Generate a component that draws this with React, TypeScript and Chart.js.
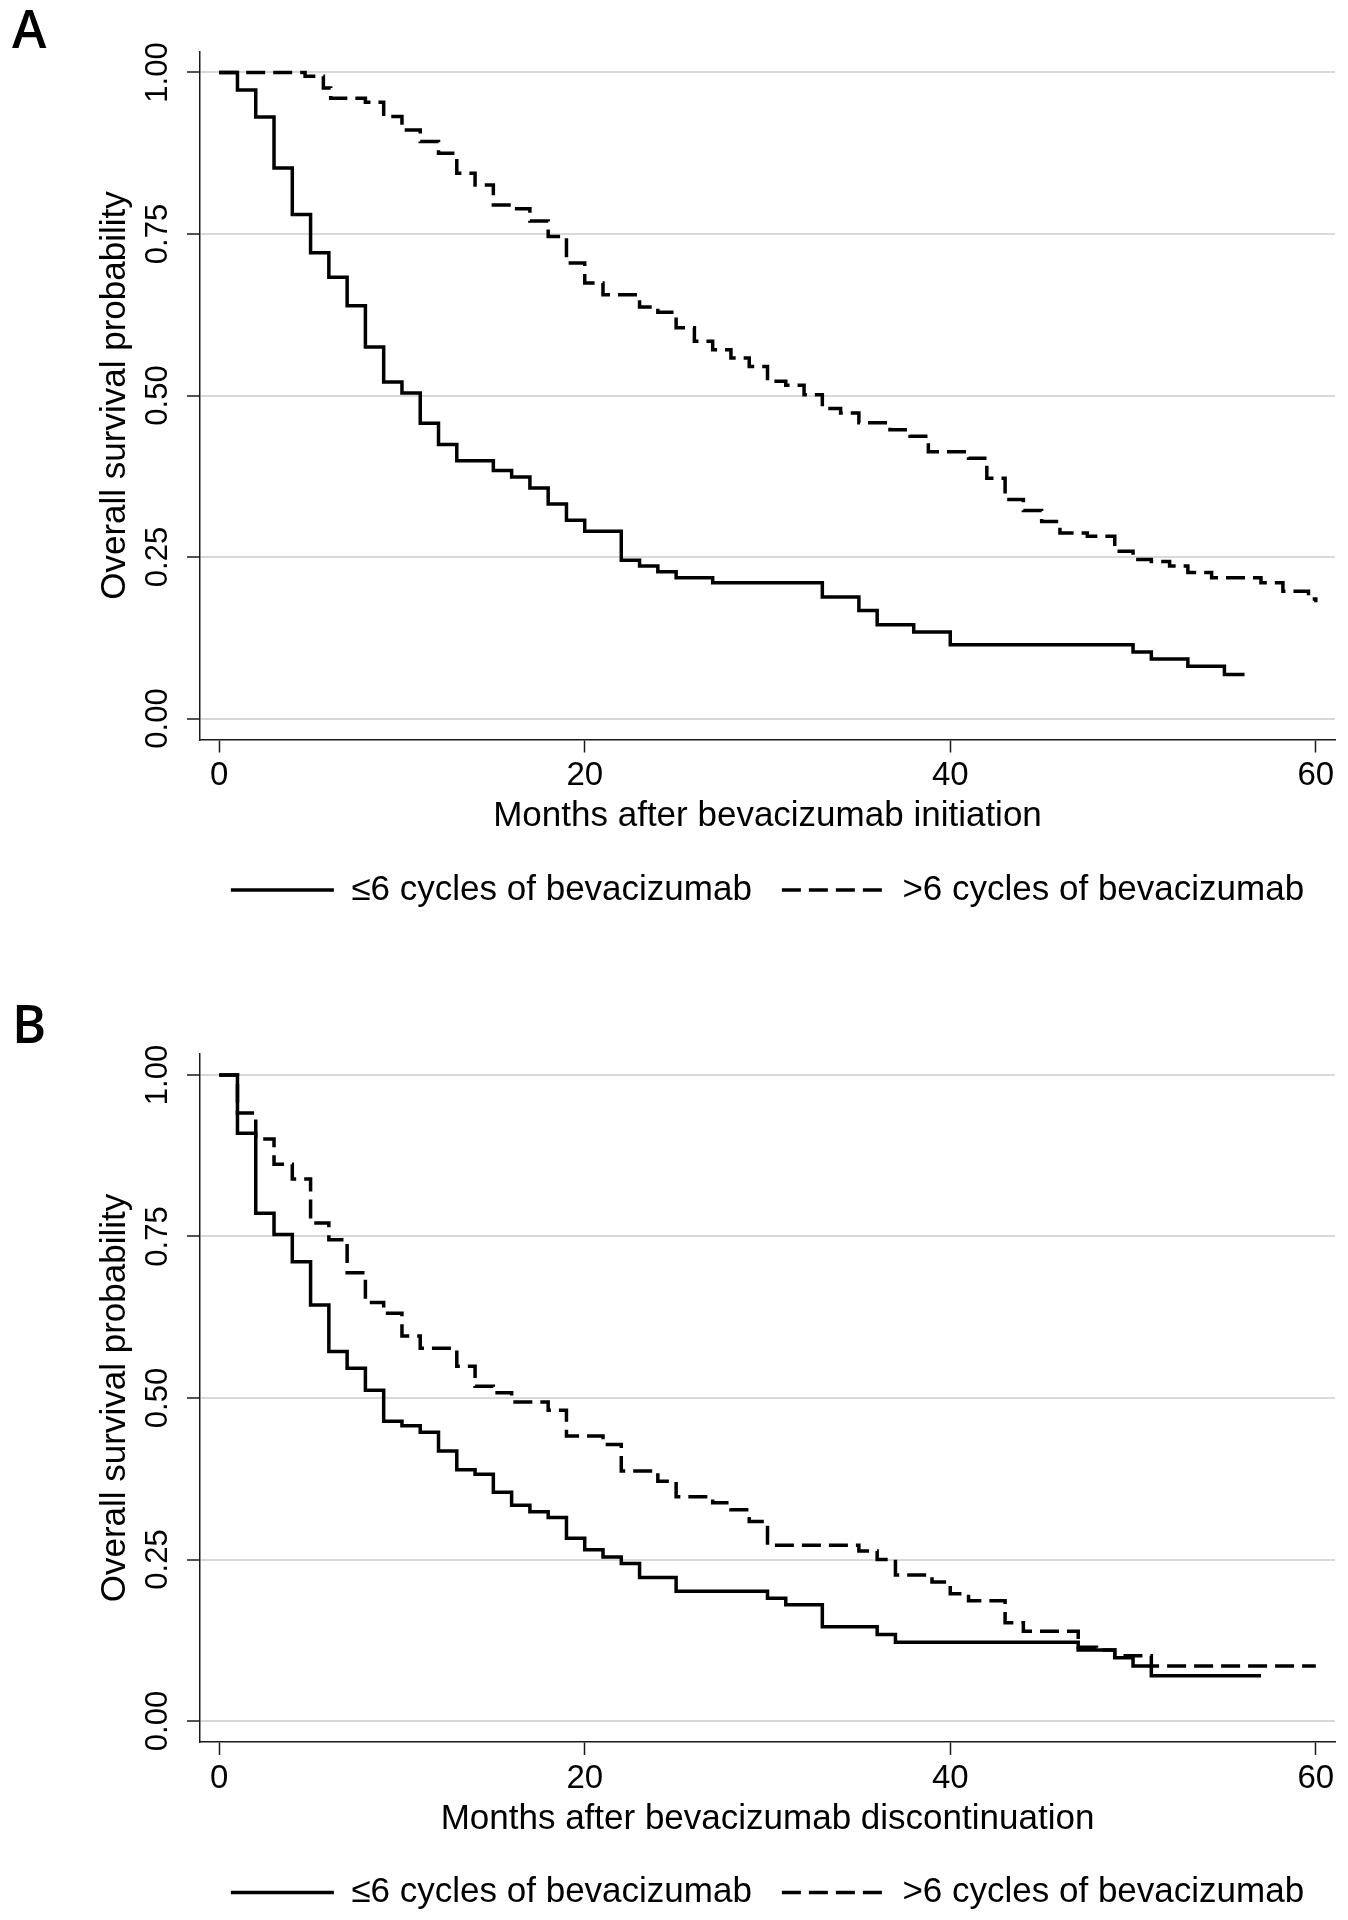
import React, { useEffect, useRef } from 'react';
import { Chart, registerables } from 'chart.js';

Chart.register(...registerables);

// ---------- data ----------
const MONTH_TICKS = [0, 20, 40, 60];
const PROB_TICKS = [0, 0.25, 0.5, 0.75, 1];
const SERIES_LABELS = ['≤6 cycles of bevacizumab', '>6 cycles of bevacizumab'];
const Y_TITLE = 'Overall survival probability';
const X_TITLE_A = 'Months after bevacizumab initiation';
const X_TITLE_B = 'Months after bevacizumab discontinuation';

// Panel A, ≤6 cycles
const A_LOW_MONTHS = [0, 1, 2, 3, 4, 5, 6, 7, 8, 9, 10, 11, 12, 13, 15, 16, 17, 18, 19, 20, 22, 23, 24, 25, 27, 33, 35, 36, 38, 40, 50, 51, 53, 55, 56.1];
const A_LOW_SURV = [1.0, 0.973, 0.931, 0.852, 0.780, 0.721, 0.683, 0.639, 0.575, 0.521, 0.504, 0.457, 0.424, 0.399, 0.384, 0.374, 0.357, 0.332, 0.307, 0.290, 0.245, 0.236, 0.227, 0.218, 0.210, 0.188, 0.167, 0.145, 0.134, 0.114, 0.103, 0.092, 0.081, 0.068, 0.068];

// Panel A, >6 cycles
const A_HIGH_MONTHS = [0, 4.7, 5.7, 6.1, 8, 9, 10, 11, 12, 13, 14, 15, 16, 17, 18, 19, 20, 21, 23, 24, 25, 26, 27, 28, 29, 30, 31, 32, 33, 34, 35, 36.7, 37.8, 38.8, 41, 42, 43, 44, 45, 46, 47.5, 49, 50, 51, 52, 53, 54.3, 57, 58.2, 59.6, 60];
const A_HIGH_SURV = [1.0, 0.994, 0.976, 0.960, 0.954, 0.932, 0.911, 0.893, 0.875, 0.844, 0.826, 0.795, 0.789, 0.770, 0.746, 0.705, 0.674, 0.656, 0.637, 0.629, 0.605, 0.584, 0.571, 0.558, 0.545, 0.522, 0.516, 0.501, 0.480, 0.473, 0.458, 0.447, 0.437, 0.413, 0.403, 0.372, 0.339, 0.322, 0.305, 0.287, 0.282, 0.259, 0.246, 0.243, 0.236, 0.226, 0.218, 0.210, 0.197, 0.185, 0.180];

// Panel B, ≤6 cycles
const B_LOW_MONTHS = [0, 1, 2, 3, 4, 5, 6, 7, 8, 9, 10, 11, 12, 13, 14, 15, 16, 17, 18, 19, 20, 21, 22, 23, 25, 30, 31, 33, 36, 37, 47, 49, 50, 51, 57];
const B_LOW_SURV = [1.0, 0.910, 0.786, 0.753, 0.711, 0.644, 0.572, 0.546, 0.512, 0.464, 0.457, 0.447, 0.418, 0.389, 0.382, 0.354, 0.334, 0.324, 0.315, 0.283, 0.265, 0.254, 0.244, 0.222, 0.201, 0.190, 0.180, 0.146, 0.134, 0.122, 0.110, 0.098, 0.085, 0.070, 0.070];

// Panel B, >6 cycles
const B_HIGH_MONTHS = [0, 1, 2, 3, 4, 5, 6, 7, 8, 9, 10, 11, 13, 14, 15, 16, 18, 19, 21, 22, 24, 25, 27, 28, 29, 30, 35, 36, 37, 39, 40, 41, 43, 44, 47, 48, 49, 51, 60];
const B_HIGH_SURV = [1.0, 0.941, 0.901, 0.862, 0.839, 0.771, 0.745, 0.694, 0.648, 0.631, 0.596, 0.577, 0.549, 0.518, 0.508, 0.494, 0.481, 0.441, 0.428, 0.387, 0.371, 0.347, 0.338, 0.327, 0.309, 0.272, 0.263, 0.250, 0.226, 0.215, 0.197, 0.186, 0.152, 0.139, 0.114, 0.110, 0.101, 0.085, 0.085];

// ---------- styling ----------
const FONT = '"Liberation Sans", Arial, Helvetica, sans-serif';
const AXIS = '#1a1a1a';
const GRID = '#d9d9d9';
const LINE_W = 3.5;
const DASH = [19, 8];

const panelLetterPlugin = {
  id: 'panelLetter',
  afterDraw(chart: any, _args: any, opts: any) {
    const ctx = chart.ctx;
    ctx.save();
    ctx.font = `${opts.weight} ${opts.size}px ${opts.family}`;
    ctx.fillStyle = '#000';
    ctx.textAlign = 'left';
    ctx.textBaseline = 'alphabetic';
    ctx.fillText(opts.text, opts.x, opts.y);
    ctx.restore();
  },
};

type PanelProps = {
  letter: string;
  letterY: number;
  xTitle: string;
  lowMonths: number[];
  lowSurv: number[];
  highMonths: number[];
  highSurv: number[];
  top: number;
  height: number;
  padTop: number;
  padBottom: number;
};

function KMPanel(p: PanelProps) {
  const ref = useRef<HTMLCanvasElement>(null);

  useEffect(() => {
    const canvas = ref.current;
    if (!canvas) return;
    const toPoints = (xs: number[], ys: number[]) => xs.map((x, i) => ({ x, y: ys[i] }));
    const chart = new Chart(canvas, {
      type: 'line',
      data: {
        datasets: [
          {
            label: SERIES_LABELS[0],
            data: toPoints(p.lowMonths, p.lowSurv),
            borderColor: '#000',
            backgroundColor: '#000',
            borderWidth: LINE_W,
            pointRadius: 0,
            stepped: 'before',
            fill: false,
            borderDash: [],
          },
          {
            label: SERIES_LABELS[1],
            data: toPoints(p.highMonths, p.highSurv),
            borderColor: '#000',
            backgroundColor: '#000',
            borderWidth: LINE_W,
            pointRadius: 0,
            stepped: 'before',
            fill: false,
            borderDash: DASH,
          },
        ],
      },
      options: {
        responsive: false,
        animation: false,
        devicePixelRatio: 1,
        events: [],
        layout: { padding: { left: 0, right: 13, top: p.padTop, bottom: p.padBottom } },
        scales: {
          x: {
            type: 'linear',
            min: -1.05,
            max: 61.05,
            afterBuildTicks: (s: any) => {
              s.ticks = MONTH_TICKS.map((v) => ({ value: v }));
            },
            afterFit: (s: any) => {
              s.height = 103;
            },
            grid: {
              display: true,
              drawOnChartArea: false,
              drawTicks: true,
              tickLength: 13,
              tickColor: AXIS,
              tickWidth: 1.5,
              color: AXIS,
            },
            border: { display: true, color: AXIS, width: 1.5 },
            ticks: {
              font: { family: FONT, size: 33 },
              color: '#000',
              padding: 4,
              minRotation: 0,
              maxRotation: 0,
              autoSkip: false,
            },
            title: {
              display: true,
              text: p.xTitle,
              font: { family: FONT, size: 35 },
              color: '#000',
              padding: { top: 0, bottom: 5 },
            },
          },
          y: {
            type: 'linear',
            min: -0.0325,
            max: 1.0325,
            afterBuildTicks: (s: any) => {
              s.ticks = PROB_TICKS.map((v) => ({ value: v }));
            },
            afterFit: (s: any) => {
              s.width = 200;
            },
            grid: {
              display: true,
              drawOnChartArea: true,
              color: GRID,
              lineWidth: 2,
              drawTicks: true,
              tickLength: 13,
              tickColor: AXIS,
              tickWidth: 1.5,
            },
            border: { display: true, color: AXIS, width: 1.5 },
            ticks: {
              font: { family: FONT, size: 31 },
              color: '#000',
              padding: -2,
              minRotation: 90,
              maxRotation: 90,
              crossAlign: 'center',
              autoSkip: false,
              callback: (v: any) => Number(v).toFixed(2),
            },
            title: {
              display: true,
              text: Y_TITLE,
              font: { family: FONT, size: 35 },
              color: '#000',
              padding: { top: 94, bottom: 0 },
            },
          },
        },
        plugins: {
          legend: {
            display: true,
            position: 'bottom',
            align: 'center',
            fullSize: false,
            labels: {
              font: { family: FONT, size: 35 },
              color: '#000',
              usePointStyle: true,
              pointStyleWidth: 103,
              padding: 30,
              generateLabels: (ch: any) => {
                const base = (Chart.defaults as any).plugins.legend.labels.generateLabels(ch);
                return base.map((it: any) => {
                  const ds = ch.data.datasets[it.datasetIndex];
                  return {
                    ...it,
                    pointStyle: 'line',
                    lineWidth: ds.borderWidth,
                    lineDash: ds.borderDash,
                    strokeStyle: ds.borderColor,
                    lineCap: 'butt',
                  };
                });
              },
            },
          },
          tooltip: { enabled: false },
          panelLetter: {
            text: p.letter,
            x: 12,
            y: p.letterY,
            size: 52,
            weight: 600,
            family: '"Open Sans", "Liberation Sans", sans-serif',
          },
        } as any,
      } as any,
      plugins: [panelLetterPlugin as any],
    } as any);
    return () => chart.destroy();
  }, []);

  return (
    <canvas
      ref={ref}
      width={1348}
      height={p.height}
      style={{ position: 'absolute', left: 0, top: p.top, width: 1348, height: p.height, display: 'block' }}
    />
  );
}

export default function App() {
  return (
    <div
      style={{
        position: 'absolute',
        left: 0,
        top: 0,
        width: 1348,
        height: 1920,
        background: '#fff',
        overflow: 'hidden',
      }}
    >
      <KMPanel
        letter="A"
        letterY={48}
        xTitle={X_TITLE_A}
        lowMonths={A_LOW_MONTHS}
        lowSurv={A_LOW_SURV}
        highMonths={A_HIGH_MONTHS}
        highSurv={A_HIGH_SURV}
        top={0}
        height={955}
        padTop={51.5}
        padBottom={37.5}
      />
      <KMPanel
        letter="B"
        letterY={88}
        xTitle={X_TITLE_B}
        lowMonths={B_LOW_MONTHS}
        lowSurv={B_LOW_SURV}
        highMonths={B_HIGH_MONTHS}
        highSurv={B_HIGH_SURV}
        top={955}
        height={965}
        padTop={99}
        padBottom={0}
      />
    </div>
  );
}
